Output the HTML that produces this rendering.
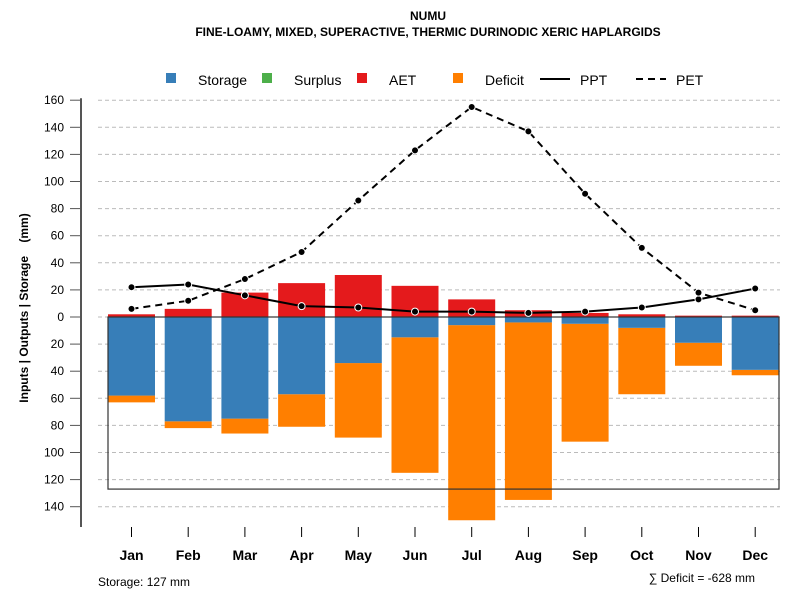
<!DOCTYPE html>
<html><head><meta charset="utf-8"><style>
body{margin:0;background:#fff}
svg{font-family:"Liberation Sans",sans-serif}
</style></head><body>
<svg id="c" width="800" height="600">
<text x="428" y="20" text-anchor="middle" font-size="12" font-weight="bold">NUMU</text>
<text x="428" y="36" text-anchor="middle" font-size="12" font-weight="bold">FINE-LOAMY, MIXED, SUPERACTIVE, THERMIC DURINODIC XERIC HAPLARGIDS</text>
<g font-size="14">
<rect x="166" y="73" width="10" height="10" fill="#377eb8"/>
<text x="198" y="85">Storage</text>
<rect x="262" y="73" width="10" height="10" fill="#4daf4a"/>
<text x="294" y="85">Surplus</text>
<rect x="357" y="73" width="10" height="10" fill="#e41a1c"/>
<text x="389" y="85">AET</text>
<rect x="453" y="73" width="10" height="10" fill="#ff7f00"/>
<text x="485" y="85">Deficit</text>
<line x1="540" y1="79" x2="570" y2="79" stroke="#000" stroke-width="2"/>
<text x="580" y="85">PPT</text>
<line x1="636" y1="79" x2="666" y2="79" stroke="#000" stroke-width="2" stroke-dasharray="7,5"/>
<text x="676" y="85">PET</text>
</g>
<text transform="translate(28,308) rotate(-90)" text-anchor="middle" font-size="12" font-weight="bold" xml:space="preserve">Inputs | Outputs | Storage    (mm)</text>
<text x="98" y="586" font-size="12">Storage: 127 mm</text>
<text x="755" y="582" text-anchor="end" font-size="12">∑ Deficit = -628 mm</text>
<g id="plot"></g>
</svg>
<script>
const months=["Jan","Feb","Mar","Apr","May","Jun","Jul","Aug","Sep","Oct","Nov","Dec"];
const aet=[2,6,18,25,31,23,13,5,3,2,1,1];
const storage=[58,77,75,57,34,15,6,4,5,8,19,39];
const deficitBottom=[63,82,86,81,89,115,150,135,92,57,36,43];
const ppt=[22,24,16,8,7,4,4,3,4,7,13,21];
const pet=[6,12,28,48,86,123,155,137,91,51,18,5];
const yTicks=[160,140,120,100,80,60,40,20,0,-20,-40,-60,-80,-100,-120,-140];
const storageCap=127;
const NS="http://www.w3.org/2000/svg";
const g=document.getElementById('plot');
const y=v=>317-v*1.355;
const x=i=>131.5+i*56.7;
const bw=47;
function mk(t,a){const e=document.createElementNS(NS,t);for(const k in a)e.setAttribute(k,a[k]);g.appendChild(e);return e;}
yTicks.forEach(t=>{
 const l=mk('line',{x1:98,x2:780,y1:y(t),y2:y(t),stroke:'#bbb','stroke-dasharray':'4,3'});
 
 
 const tk=mk('line',{x1:70,x2:81,y1:y(t),y2:y(t),stroke:'#555'});
 
 
 const tx=mk('text',{x:64,y:y(t)+4,'text-anchor':'end','font-size':12});
 tx.textContent=Math.abs(t);
 
 
});
const ax=mk('line',{x1:81,x2:81,y1:y(160)-2,y2:527,stroke:'#555','stroke-width':2});


months.forEach((m,i)=>{
 let r=mk('rect',{x:x(i)-bw/2,y:y(aet[i]),width:bw,height:y(0)-y(aet[i]),fill:'#e41a1c'});
 
 
 r=mk('rect',{x:x(i)-bw/2,y:y(-storage[i]),width:bw,height:y(-deficitBottom[i])-y(-storage[i]),fill:'#ff7f00'});
 
 
 r=mk('rect',{x:x(i)-bw/2,y:y(0),width:bw,height:y(-storage[i])-y(0),fill:'#377eb8'});
 
 
 const tk=mk('line',{x1:x(i),x2:x(i),y1:527,y2:537,stroke:'#000'});
 
 
 const tx=mk('text',{x:x(i),y:560,'text-anchor':'middle','font-size':14,'font-weight':'bold'});
 tx.textContent=m;
 
 
});
const cap=mk('rect',{x:108,y:y(0),width:671,height:y(-storageCap)-y(0),fill:'none',stroke:'#333','stroke-width':1.2});


function line(arr,name,dash){
 const p=mk('polyline',{points:arr.map((v,i)=>x(i)+','+y(v)).join(' '),fill:'none',stroke:'#000','stroke-width':2,'stroke-dasharray':dash});
 
 
 arr.forEach((v,i)=>{
  const c=mk('circle',{cx:x(i),cy:y(v),r:3.5,fill:'#000',stroke:'#fff','stroke-width':1});
  
  
 });
}
line(ppt,'ppt','none');
line(pet,'pet','7,5');
</script>
</body></html>
